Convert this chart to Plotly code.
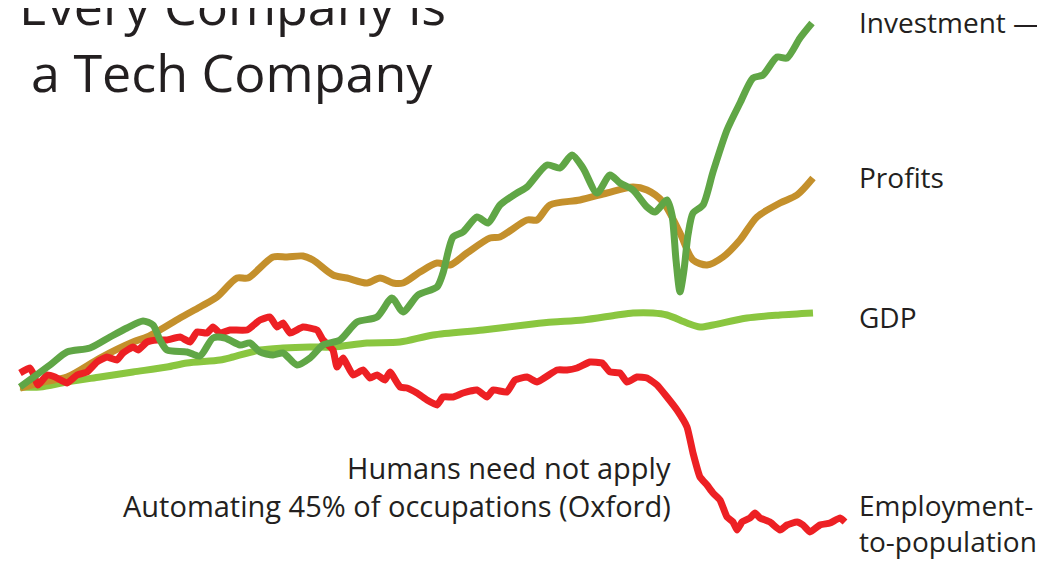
import plotly.graph_objects as go

# ---- data (time index t, index value) ----
inv_t = [20, 50, 67, 90, 110, 127, 143, 153, 160, 167, 187, 200, 213, 225, 240, 250, 260, 273, 283, 297,
         310, 323, 340, 357, 377, 392, 403, 418, 437, 443, 453, 463, 477, 488, 500, 517, 527, 547, 560, 572,
         583, 597, 610, 620, 633, 647, 655, 667, 672, 676, 680, 684, 688, 693, 703, 713, 727, 740, 753, 763,
         777, 787, 800, 812]
inv_v = [174, 196, 209, 213, 224, 233, 240, 236, 221, 211, 209, 205, 223, 223, 216, 218, 209, 206, 208, 196,
         203, 216, 221, 239, 244, 263, 249, 266, 274, 288, 324, 329, 344, 338, 356, 368, 374, 396, 393, 406,
         393, 368, 386, 378, 371, 354, 349, 361, 346, 301, 269, 291, 326, 348, 356, 389, 431, 458, 483, 486,
         504, 503, 523, 538]

prof_t = [20, 43, 67, 100, 133, 147, 160, 180, 200, 217, 237, 248, 273, 287, 303, 313, 333, 347, 367, 380,
          393, 403, 420, 437, 450, 467, 490, 500, 527, 537, 550, 580, 607, 633, 647, 663, 680, 693, 707, 723,
          740, 757, 780, 797, 813]
prof_v = [173, 179, 184, 203, 219, 224, 231, 243, 254, 264, 283, 283, 304, 304, 305, 301, 286, 283, 278, 283,
          278, 278, 289, 298, 296, 308, 323, 324, 341, 341, 356, 361, 368, 374, 371, 359, 328, 301, 296, 304,
          321, 344, 358, 366, 383]

gdp_t = [20, 40, 67, 100, 133, 167, 187, 220, 233, 260, 283, 310, 333, 367, 400, 433, 483, 533, 553, 583,
         617, 633, 653, 667, 687, 700, 713, 747, 780, 813]
gdp_v = [174, 174, 179, 184, 189, 194, 198, 201, 204, 211, 213, 214, 214, 218, 219, 226, 231, 237, 239, 241,
         246, 248, 248, 246, 238, 234, 236, 243, 246, 248]

emp_t = [20, 30, 33, 38, 47, 55, 67, 77, 87, 97, 107, 117, 123, 133, 138, 147, 157, 167, 180, 190,
         197, 207, 213, 220, 230, 247, 260, 270, 277, 283, 290, 303, 317, 323, 333, 337, 343, 353, 363, 370,
         377, 385, 390, 400, 407, 417, 427, 437, 443, 453, 463, 477, 487, 493, 507, 515, 527, 537, 557, 567,
         577, 590, 602, 610, 620, 627, 637, 647, 657, 667, 677, 687, 693, 700, 707, 713, 720, 727, 733, 737,
         742, 750, 755, 760, 770, 780, 787, 797, 803, 810, 820, 830, 840, 845]
emp_v = [188, 193, 188, 176, 186, 184, 178, 186, 189, 199, 204, 201, 208, 214, 211, 219, 221, 221, 224, 219,
         229, 228, 234, 228, 231, 231, 241, 244, 234, 238, 228, 234, 231, 221, 211, 194, 203, 186, 191, 183,
         186, 181, 189, 174, 173, 168, 161, 156, 164, 164, 168, 171, 164, 171, 169, 181, 184, 179, 191, 191,
         193, 199, 198, 189, 188, 179, 184, 183, 176, 164, 151, 134, 108, 84, 76, 68, 61, 44, 39, 31,
         39, 43, 48, 43, 39, 31, 36, 39, 36, 29, 36, 38, 43, 39]

series_names = ["Investment", "Profits", "GDP", "Employment-to-population"]

GREEN_DARK = "#60A646"
GOLD = "#C4902C"
GREEN_LIGHT = "#8AC640"
RED = "#ED2024"
TEXT = "#231F20"
FONT = "Open Sans"

X0, X1 = 8, 1053
Y0, Y1 = -8, 553

fig = go.Figure()
fig.add_trace(go.Scatter(x=gdp_t, y=gdp_v, mode="lines", name=series_names[2],
                         line=dict(color=GREEN_LIGHT, width=7, shape="spline", smoothing=0.8)))
fig.add_trace(go.Scatter(x=prof_t, y=prof_v, mode="lines", name=series_names[1],
                         line=dict(color=GOLD, width=7, shape="spline", smoothing=0.8)))
fig.add_trace(go.Scatter(x=emp_t, y=emp_v, mode="lines", name=series_names[3],
                         line=dict(color=RED, width=7, shape="spline", smoothing=0.4)))
fig.add_trace(go.Scatter(x=inv_t, y=inv_v, mode="lines", name=series_names[0],
                         line=dict(color=GREEN_DARK, width=7, shape="spline", smoothing=0.7)))

ann = []
def label(text, x, y, size=29, xanchor="left"):
    ann.append(dict(text=text, x=x, y=y, xref="x", yref="y", showarrow=False,
                    xanchor=xanchor, yanchor="middle", align=xanchor,
                    font=dict(family=FONT, size=size, color=TEXT)))

label("Investment —", 857, 539, size=28)
label("Profits", 857, 384, size=28)
label("GDP", 857, 244, size=28)
label("Employment-", 857, 56, size=28)
label("to-population", 857, 20, size=28)
label("Humans need not apply", 673, 94, xanchor="right")
label("Automating 45% of occupations (Oxford)", 673, 56, xanchor="right")
# title (paper coordinates so the cropped first line is still drawn)
for txt, v in [("Every Company is", 557), ("a Tech Company", 490)]:
    ann.append(dict(text=txt, x=(232 - X0) / (X1 - X0), y=(v - Y0) / (Y1 - Y0),
                    xref="paper", yref="paper", showarrow=False,
                    xanchor="center", yanchor="middle",
                    font=dict(family=FONT, size=52, color=TEXT)))

fig.update_layout(
    width=1045, height=561,
    margin=dict(l=0, r=0, t=0, b=0),
    paper_bgcolor="white", plot_bgcolor="white",
    showlegend=False,
    xaxis=dict(range=[X0, X1], visible=False, fixedrange=True),
    yaxis=dict(range=[Y0, Y1], visible=False, fixedrange=True),
    annotations=ann,
)
fig.write_html("out.html")
